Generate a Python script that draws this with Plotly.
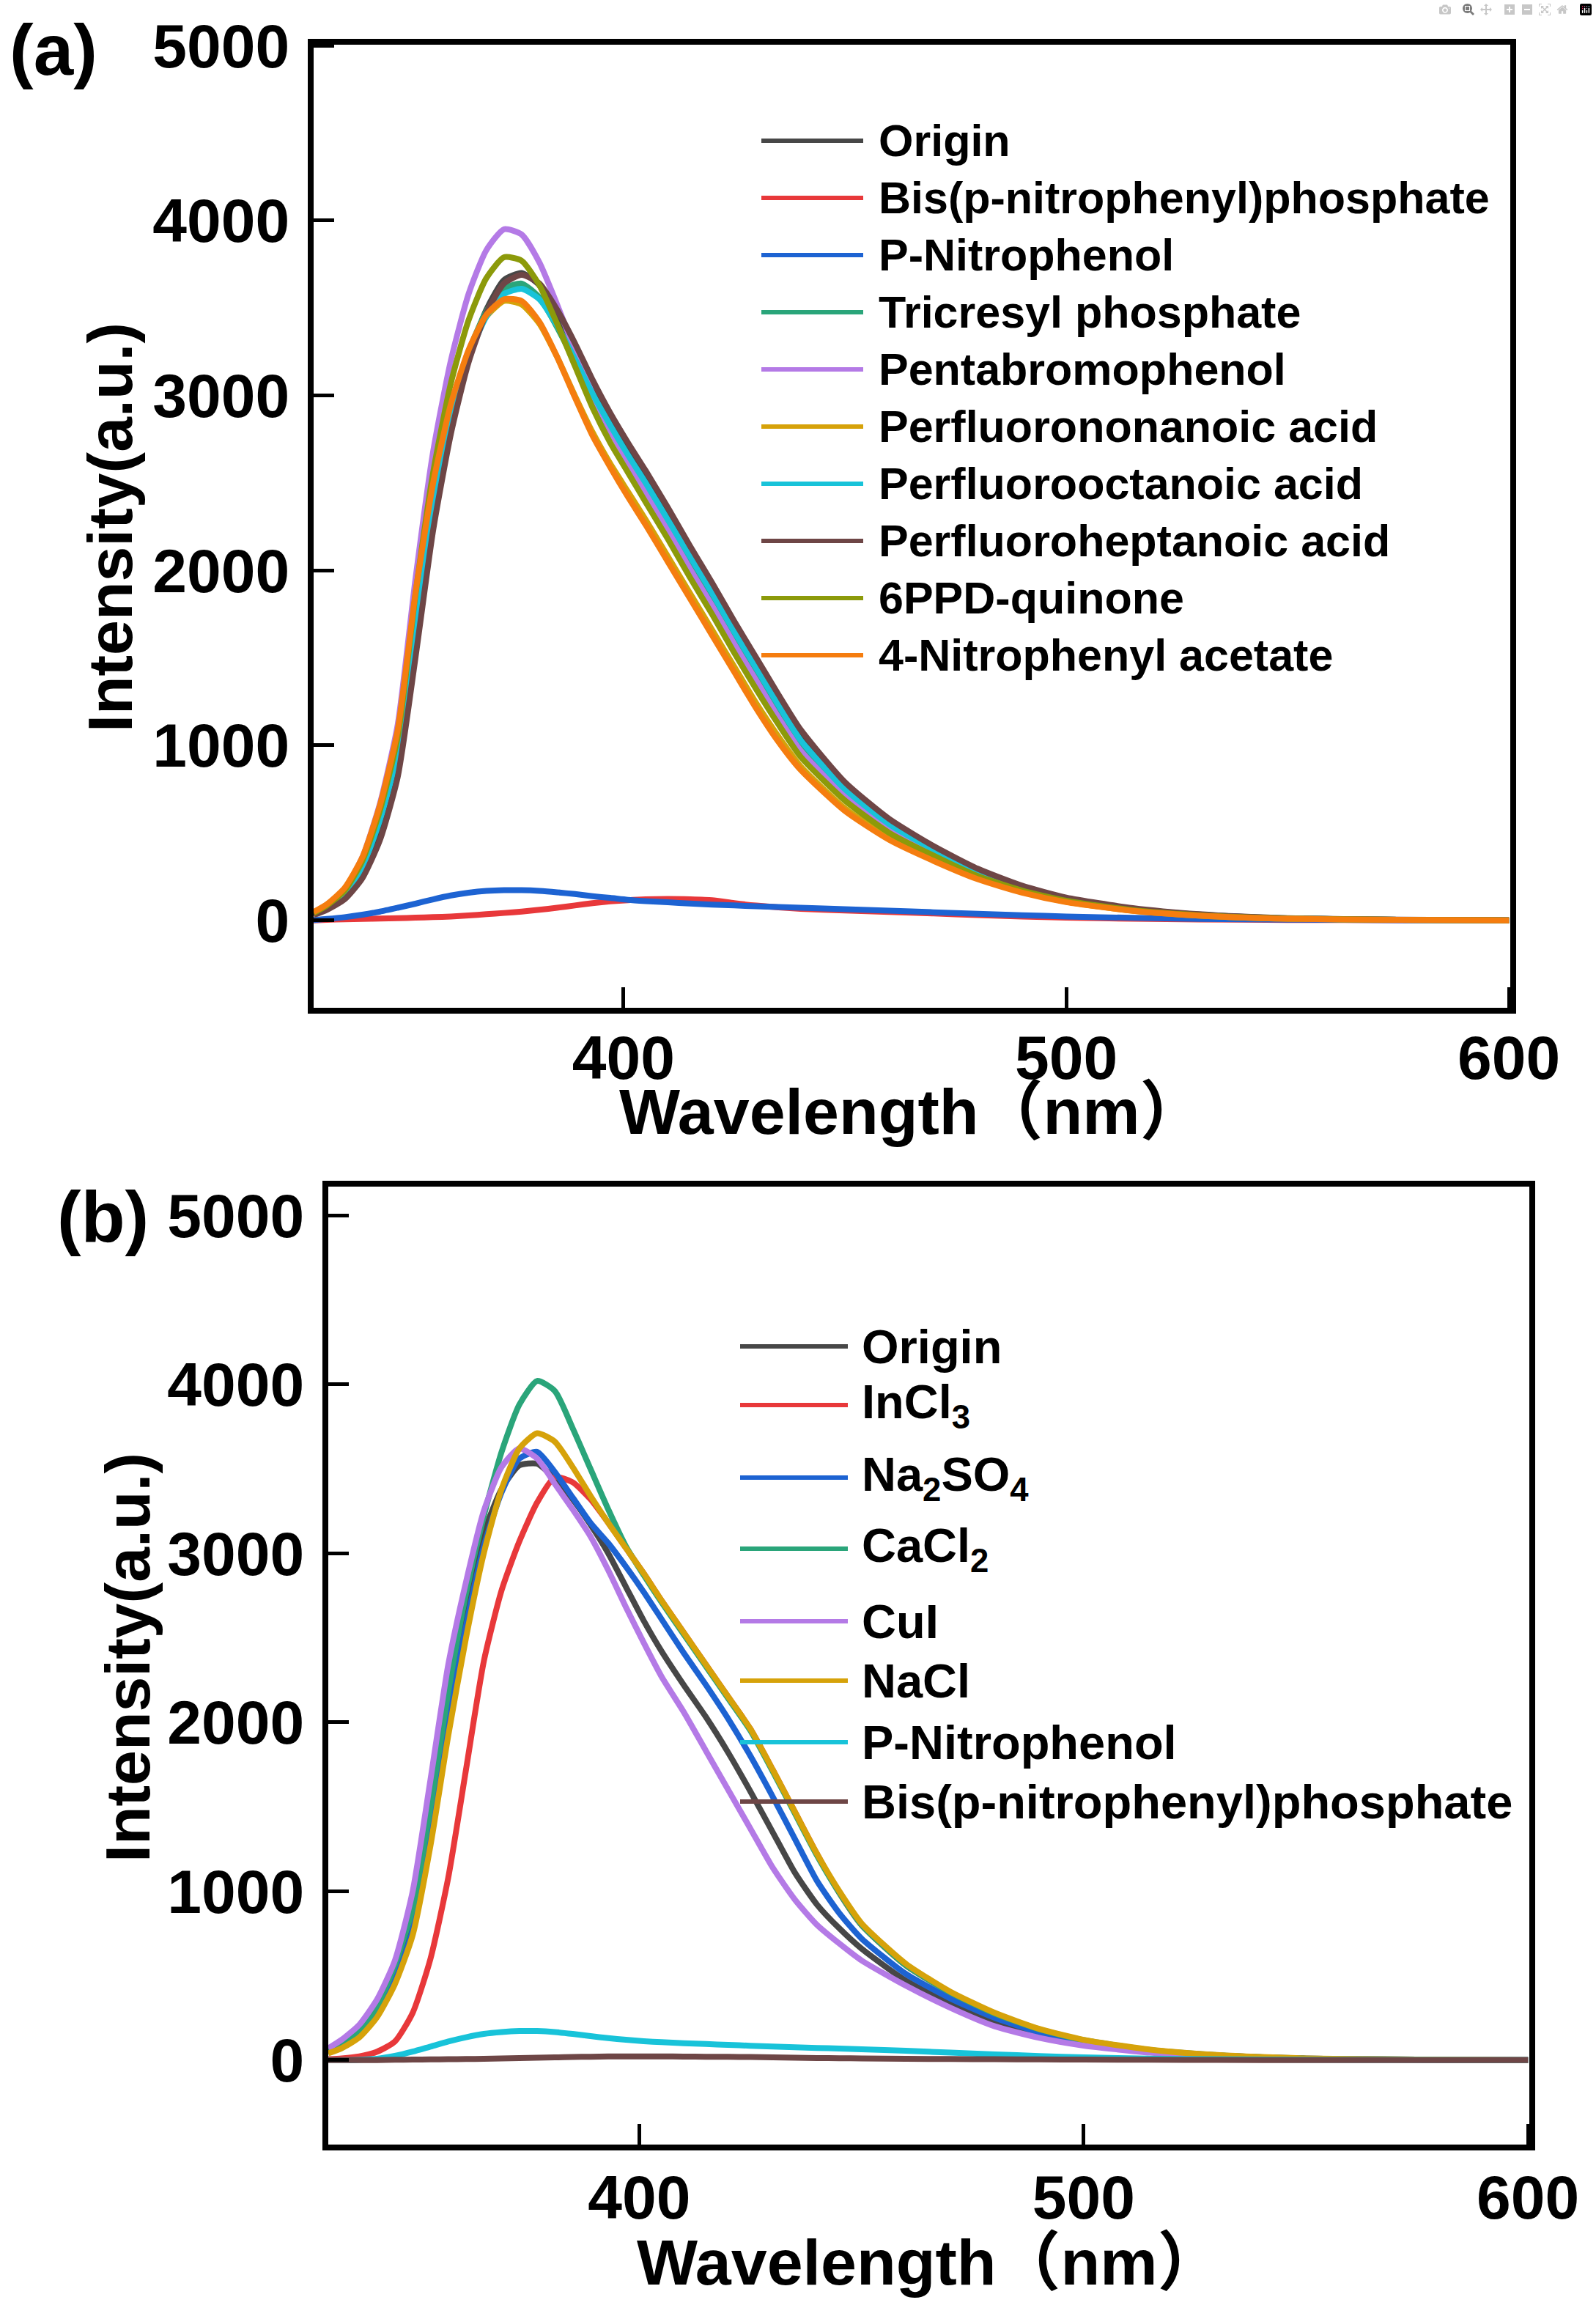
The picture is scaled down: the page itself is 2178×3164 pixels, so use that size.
import plotly.graph_objects as go

# ---------------- data ----------------
WL_A = [330, 333, 337, 341, 345, 349, 353, 357, 361, 365, 369, 373, 377, 381, 385, 389, 393, 397,
        401, 405, 410, 415, 420, 425, 430, 435, 440, 450, 460, 470, 480, 490, 500, 515, 530, 550, 575, 600]

A_ORIGIN = [35, 65, 130, 260, 500, 860, 1550, 2280, 2820, 3220, 3490, 3660, 3700, 3630, 3460, 3260, 3050, 2860,
            2690, 2520, 2310, 2090, 1880, 1660, 1450, 1240, 1050, 760, 560, 410, 285, 190, 125, 66, 33, 11, 3, 0]
A_BIS = [0, 3, 6, 8, 10, 12, 15, 18, 22, 28, 35, 42, 50, 60, 72, 85, 98, 108,
         115, 120, 122, 120, 115, 98, 84, 74, 66, 56, 48, 39, 30, 22, 15, 9, 5, 2, 1, 0]
A_PNP = [2, 8, 18, 32, 50, 72, 95, 120, 142, 158, 168, 172, 172, 168, 160, 150, 138, 128,
         117, 110, 103, 96, 90, 85, 80, 76, 72, 64, 55, 46, 37, 29, 22, 14, 8, 4, 1, 0]
A_TCP = [40, 78, 155, 310, 585, 975, 1740, 2400, 2900, 3250, 3480, 3610, 3640, 3560, 3390, 3190, 2980, 2800,
         2630, 2470, 2260, 2040, 1830, 1610, 1400, 1190, 1000, 730, 535, 395, 270, 182, 120, 62, 31, 10, 3, 0]
A_PBP = [45, 90, 180, 360, 670, 1120, 1950, 2680, 3200, 3580, 3830, 3950, 3920, 3760, 3520, 3260, 3010, 2800,
         2620, 2440, 2230, 2010, 1800, 1580, 1370, 1160, 970, 710, 520, 385, 262, 176, 116, 60, 30, 10, 3, 0]
A_PFNA = [45, 88, 175, 345, 640, 1060, 1840, 2480, 2940, 3250, 3450, 3540, 3520, 3410, 3220, 3000, 2790, 2610,
          2450, 2290, 2080, 1870, 1660, 1450, 1240, 1050, 880, 640, 470, 350, 240, 162, 106, 55, 27, 9, 3, 0]
A_PFOA = [40, 78, 155, 305, 575, 960, 1720, 2380, 2870, 3220, 3450, 3580, 3610, 3550, 3400, 3210, 3010, 2830,
          2660, 2500, 2290, 2080, 1870, 1650, 1440, 1230, 1030, 750, 550, 405, 278, 186, 122, 64, 32, 11, 3, 0]
A_PFHPA = [30, 60, 120, 240, 460, 820, 1500, 2230, 2780, 3190, 3470, 3640, 3690, 3640, 3490, 3300, 3090, 2900,
           2730, 2570, 2360, 2140, 1930, 1710, 1500, 1290, 1090, 790, 580, 425, 295, 198, 130, 70, 35, 12, 4, 0]
A_6PPD = [42, 85, 170, 340, 630, 1050, 1860, 2560, 3070, 3430, 3670, 3790, 3770, 3630, 3410, 3170, 2930, 2730,
          2560, 2390, 2180, 1960, 1750, 1530, 1320, 1120, 935, 685, 500, 370, 253, 170, 112, 58, 29, 10, 3, 0]
A_4NPA = [48, 92, 185, 360, 660, 1090, 1870, 2500, 2950, 3260, 3460, 3550, 3540, 3420, 3220, 2990, 2770, 2590,
          2420, 2260, 2050, 1840, 1630, 1420, 1210, 1020, 860, 625, 460, 340, 235, 158, 104, 54, 27, 9, 3, 0]

WL_B = [330, 333, 337, 341, 345, 349, 353, 357, 361, 365, 369, 373, 377, 381, 385, 389, 393, 397,
        401, 405, 410, 415, 420, 425, 430, 435, 440, 445, 450, 460, 470, 480, 490, 500, 515, 530, 550, 575, 600]

B_ORIGIN = [55, 90, 170, 310, 540, 880, 1480, 2150, 2700, 3120, 3380, 3520, 3530, 3440, 3320, 3170, 3000, 2800,
            2600, 2420, 2220, 2030, 1820, 1590, 1350, 1110, 920, 780, 660, 470, 335, 228, 152, 100, 50, 25, 8, 2, 0]
B_INCL3 = [5, 10, 22, 50, 110, 280, 600, 1080, 1720, 2360, 2780, 3070, 3300, 3450, 3420, 3320, 3180, 3030,
           2880, 2720, 2530, 2340, 2150, 1960, 1720, 1470, 1220, 990, 800, 560, 400, 275, 180, 115, 58, 28, 9, 3, 0]
B_NA2SO4 = [45, 75, 145, 270, 470, 770, 1330, 2000, 2570, 3040, 3360, 3560, 3600, 3480, 3330, 3180, 3060, 2920,
            2770, 2610, 2410, 2220, 2020, 1800, 1560, 1310, 1060, 870, 720, 510, 365, 250, 165, 108, 54, 27, 9, 3, 0]
B_CACL2 = [55, 90, 170, 320, 560, 900, 1500, 2180, 2760, 3220, 3600, 3880, 4020, 3960, 3740, 3500, 3260, 3040,
           2870, 2710, 2520, 2330, 2140, 1950, 1710, 1460, 1210, 990, 800, 560, 400, 275, 182, 118, 60, 29, 9, 3, 0]
B_CUI = [70, 120, 210, 360, 590, 1000, 1660, 2340, 2830, 3250, 3510, 3620, 3560, 3410, 3260, 3100, 2900, 2680,
         2470, 2270, 2060, 1830, 1600, 1370, 1140, 950, 800, 690, 590, 440, 310, 200, 132, 86, 44, 22, 7, 2, 0]
B_NACL = [40, 70, 135, 255, 450, 740, 1270, 1920, 2500, 3000, 3380, 3620, 3710, 3660, 3510, 3340, 3180, 3030,
          2880, 2720, 2530, 2340, 2150, 1960, 1720, 1470, 1220, 1000, 810, 570, 405, 280, 185, 120, 62, 30, 10, 3, 0]
B_PNP = [0, 0, 2, 8, 25, 50, 80, 110, 135, 155, 166, 172, 172, 166, 155, 142, 130, 120,
         112, 106, 100, 95, 90, 85, 80, 76, 72, 68, 64, 55, 44, 34, 24, 16, 9, 5, 2, 1, 0]
B_BIS = [0, 0, 0, 0, 2, 3, 4, 5, 6, 8, 10, 12, 14, 16, 18, 20, 22, 22,
         22, 22, 21, 20, 19, 18, 16, 14, 12, 11, 10, 8, 6, 5, 4, 3, 2, 1, 0, 0, 0]

NAMES_A = ["Origin", "Bis(p-nitrophenyl)phosphate", "P-Nitrophenol", "Tricresyl phosphate",
           "Pentabromophenol", "Perfluorononanoic acid", "Perfluorooctanoic acid",
           "Perfluoroheptanoic acid", "6PPD-quinone", "4-Nitrophenyl acetate"]
NAMES_B = ["Origin", "InCl<sub>3</sub>", "Na<sub>2</sub>SO<sub>4</sub>", "CaCl<sub>2</sub>", "CuI",
           "NaCl", "P-Nitrophenol", "Bis(p-nitrophenyl)phosphate"]

Y_TICKS = [0, 1000, 2000, 3000, 4000, 5000]
X_TICKS = [400, 500, 600]

# ---------------- styling ----------------
COLORS_A = ["#474747", "#e8383a", "#1d63d2", "#2aa57a", "#b47ae6", "#d6a20a", "#18c3d9",
            "#6e4646", "#8c9a0a", "#f57d0f"]
COLORS_B = ["#474747", "#e8383a", "#1d63d2", "#2aa57a", "#b47ae6", "#d6a20a", "#18c3d9", "#6e4646"]

W, H = 2178, 3164
FONT = "Liberation Sans, Arial, Noto Sans CJK SC, sans-serif"

series_a = [A_ORIGIN, A_BIS, A_PNP, A_TCP, A_PBP, A_PFNA, A_PFOA, A_PFHPA, A_6PPD, A_4NPA]
series_b = [B_ORIGIN, B_INCL3, B_NA2SO4, B_CACL2, B_CUI, B_NACL, B_PNP, B_BIS]

fig = go.Figure()
for name, ys, c in zip(NAMES_A, series_a, COLORS_A):
    fig.add_trace(go.Scatter(x=WL_A, y=ys, mode="lines", name=name, showlegend=False,
                             line=dict(color=c, width=8, shape="spline", smoothing=0.6),
                             xaxis="x", yaxis="y"))
for name, ys, c in zip(NAMES_B, series_b, COLORS_B):
    fig.add_trace(go.Scatter(x=WL_B, y=ys, mode="lines", name=name, showlegend=False,
                             line=dict(color=c, width=8, shape="spline", smoothing=0.6),
                             xaxis="x2", yaxis="y2"))

def px(v):
    return v / W

def py(v):
    return 1 - v / H

tickfont = dict(family=FONT, size=84, color="black", weight="bold")
axis_common = dict(showgrid=False, zeroline=False, showline=True, linecolor="black", linewidth=8,
                   mirror=True, ticks="inside", ticklen=28, tickwidth=5, tickcolor="black",
                   tickfont=tickfont, automargin=False)

fig.update_layout(
    width=W, height=H, margin=dict(l=0, r=0, t=0, b=0, autoexpand=False),
    paper_bgcolor="white", plot_bgcolor="white",
    xaxis=dict(domain=[px(428), px(2061)], range=[330, 600.3], tickvals=X_TICKS, anchor="y",
               ticklabelstandoff=-12, **axis_common),
    yaxis=dict(domain=[py(1375), py(61)], range=[-500, 5005], tickvals=Y_TICKS, anchor="x",
               ticklabelstandoff=8, **axis_common),
    xaxis2=dict(domain=[px(448), px(2087)], range=[330, 600.3], tickvals=X_TICKS, anchor="y2",
                ticklabelstandoff=-8, **axis_common),
    yaxis2=dict(domain=[py(2926), py(1619)], range=[-500, 5170], tickvals=Y_TICKS, anchor="x2",
                ticklabelstandoff=8, **axis_common),
)

ann = []
shapes = []

def label(text, x, y, font, angle=0, xanchor="center"):
    ann.append(dict(text=text, x=px(x), y=py(y), xref="paper", yref="paper", showarrow=False,
                    xanchor=xanchor, yanchor="middle", textangle=angle, font=font))

# panel labels
panel_font = dict(family=FONT, size=98, color="black", weight="bold")
label("(a)", 73, 68, panel_font)
label("(b)", 140, 1660, panel_font)
# axis titles
title_font = dict(family=FONT, size=86, color="black", weight="bold")
xtitle_font = dict(family=FONT, size=88, color="black", weight="bold")
label("Intensity(a.u.)", 150, 720, title_font, angle=-90)
label("Intensity(a.u.)", 174, 2262, title_font, angle=-90)
label("Wavelength\uff08nm\uff09", 1245, 1516, xtitle_font)
label("Wavelength\uff08nm\uff09", 1268, 3086, xtitle_font)

# legends (drawn manually to match the long line samples)
leg_font_a = dict(family=FONT, size=61, color="black", weight="bold")
leg_font_b = dict(family=FONT, size=65, color="black", weight="bold")
LEG_A_Y = [192, 270, 348, 426, 504, 582, 660, 738, 816, 894]
for name, c, yy in zip(NAMES_A, COLORS_A, LEG_A_Y):
    shapes.append(dict(type="line", xref="paper", yref="paper", x0=px(1039), x1=px(1178),
                       y0=py(yy), y1=py(yy), line=dict(color=c, width=6)))
    label(name, 1197, yy, leg_font_a, xanchor="left")
LEG_B_Y = [1837, 1917, 2016, 2113, 2212, 2293, 2377, 2458]
for name, c, yy in zip(NAMES_B, COLORS_B, LEG_B_Y):
    shapes.append(dict(type="line", xref="paper", yref="paper", x0=px(1010), x1=px(1157),
                       y0=py(yy), y1=py(yy), line=dict(color=c, width=6)))
    label(name, 1174, yy, leg_font_b, xanchor="left")

fig.update_layout(annotations=ann, shapes=shapes)

fig.write_html("out.html", post_script="document.body.style.margin='0';")
